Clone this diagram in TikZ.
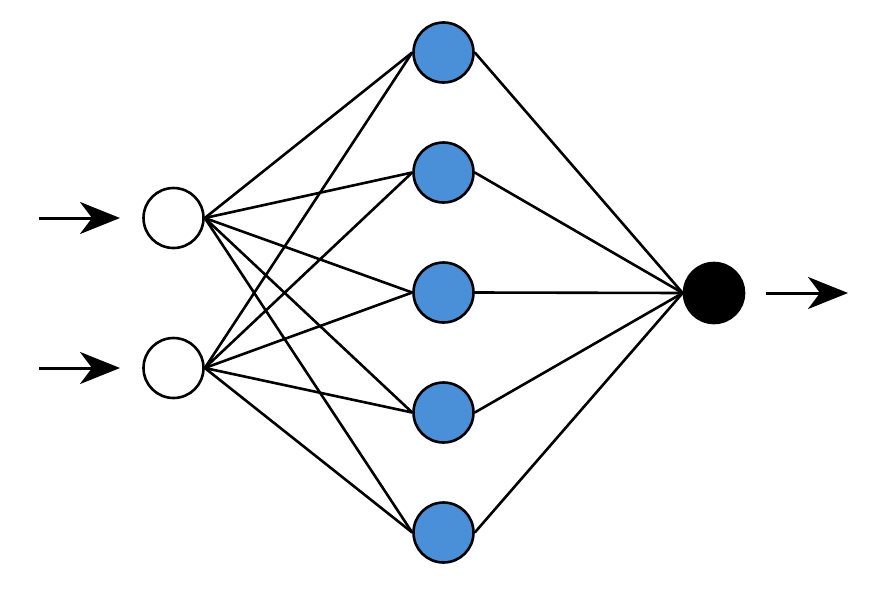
\documentclass[tikz,border=0pt]{standalone}
\usetikzlibrary{arrows.meta}
\definecolor{hidblue}{HTML}{4A90D9}
\begin{document}
\begin{tikzpicture}[x=1pt,y=-1pt,
  neuron/.style={circle,draw=black,line width=2.6pt,minimum size=60pt,inner sep=0pt},
  innode/.style={neuron,fill=white},
  hidnode/.style={neuron,fill=hidblue},
  outnode/.style={neuron,fill=black},
  conn/.style={line width=2.6pt},
  sig/.style={line width=3pt,-{Stealth[length=40pt,width=32pt,inset=12pt]}}]
\useasboundingbox (0,0) rectangle (889,589);
\node[innode] (i1) at (173.5,218) {};
\node[innode] (i2) at (173.5,368) {};
\foreach \k/\y in {1/52.5,2/172.5,3/292.5,4/412.5,5/532.5}{
  \node[hidnode] (h\k) at (443.5,\y) {};
}
\node[outnode] (o) at (714,293) {};
\foreach \k in {1,...,5}{
  \draw[conn] (i1.east) -- (h\k.west);
  \draw[conn] (i2.east) -- (h\k.west);
  \draw[conn] (h\k.east) -- (o.west);
}
\coordinate (a1) at (39,218);
\coordinate (a2) at (39,368);
\coordinate (b1) at (120,218);
\coordinate (b2) at (120,368);
\coordinate (c1) at (766,293);
\coordinate (c2) at (848,293);
\draw[sig] (a1) -- (b1);
\draw[sig] (a2) -- (b2);
\draw[sig] (c1) -- (c2);
\end{tikzpicture}
\end{document}
